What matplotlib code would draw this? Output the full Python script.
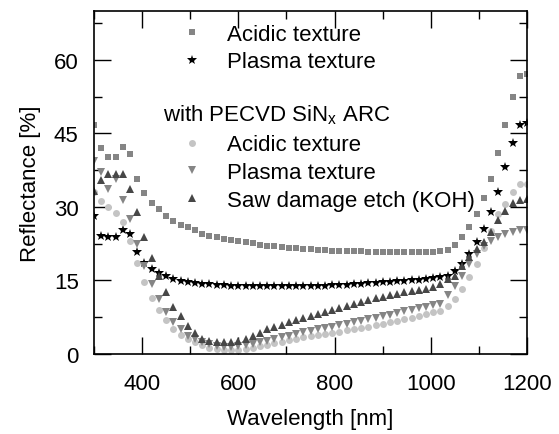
import matplotlib
matplotlib.use("Agg")
from matplotlib import pyplot as plt
from matplotlib.lines import Line2D
from matplotlib.ticker import MultipleLocator


# wavelength grid [nm]
wavelength = [300, 315, 330, 345, 360, 375, 390, 405, 420, 435, 450, 465, 480, 495, 510,
              525, 540, 555, 570, 585, 600, 615, 630, 645, 660, 675, 690, 705, 720, 735,
              750, 765, 780, 795, 810, 825, 840, 855, 870, 885, 900, 915, 930, 945, 960,
              975, 990, 1005, 1020, 1035, 1050, 1065, 1080, 1095, 1110, 1125, 1140, 1155,
              1170, 1185, 1200]

# reflectance [%], bare
acidic = [46.6, 42.0, 40.1, 40.1, 42.2, 40.8, 35.7, 32.9, 30.8, 29.5, 28.1, 27.1, 26.3, 25.8, 25.2,
          24.5, 24.1, 23.8, 23.5, 23.3, 23.0, 22.8, 22.6, 22.3, 22.1, 22.0, 21.8, 21.7, 21.6, 21.4,
          21.4, 21.3, 21.2, 21.1, 21.0, 21.0, 20.9, 20.9, 20.8, 20.8, 20.7, 20.7, 20.7, 20.7, 20.7,
          20.7, 20.7, 20.8, 20.9, 21.3, 22.3, 23.9, 25.8, 28.6, 31.8, 35.6, 41.0, 46.6, 52.5, 56.7,
          57.1]
plasma = [28.1, 24.0, 23.8, 23.8, 25.2, 24.5, 20.7, 18.6, 17.3, 16.5, 15.9, 15.3, 14.8, 14.6, 14.4,
          14.3, 14.2, 14.1, 14.0, 13.9, 13.9, 13.8, 13.8, 13.8, 13.8, 13.8, 13.8, 13.8, 13.8, 13.8,
          13.8, 13.9, 13.9, 14.0, 14.0, 14.1, 14.2, 14.3, 14.4, 14.5, 14.6, 14.7, 14.8, 14.9, 15.0,
          15.1, 15.2, 15.4, 15.6, 16.0, 17.0, 18.4, 20.3, 22.8, 25.5, 28.9, 33.0, 38.1, 43.0, 46.7,
          47.1]

# reflectance [%], with PECVD SiNx ARC
acidic_arc = [33.0, 31.1, 29.9, 28.7, 26.9, 23.1, 18.6, 14.6, 11.4, 9.0, 6.9, 5.1, 3.9, 3.1, 2.4,
              1.8, 1.3, 1.0, 0.8, 0.8, 0.9, 1.1, 1.3, 1.6, 1.9, 2.2, 2.5, 2.8, 3.1, 3.4,
              3.6, 3.8, 4.0, 4.3, 4.5, 4.8, 5.0, 5.3, 5.6, 5.9, 6.2, 6.5, 6.8, 7.1, 7.4,
              7.8, 8.2, 8.5, 8.8, 9.7, 11.2, 13.3, 15.6, 18.3, 21.6, 25.0, 28.5, 30.6, 33.0, 34.6,
              34.7]
plasma_arc = [39.4, 37.1, 33.7, 35.7, 31.4, 27.6, 22.4, 18.0, 14.3, 11.2, 8.5, 6.5, 5.1, 3.7, 3.1,
              2.5, 2.0, 1.7, 1.5, 1.5, 1.6, 1.8, 2.1, 2.4, 2.7, 3.0, 3.4, 3.7, 4.0, 4.4,
              4.7, 5.0, 5.3, 5.6, 5.9, 6.2, 6.5, 6.8, 7.1, 7.4, 7.7, 8.0, 8.3, 8.7, 9.0,
              9.3, 9.6, 9.9, 10.2, 12.0, 13.9, 16.0, 18.4, 20.4, 22.1, 23.0, 23.8, 24.4, 24.9, 25.2,
              25.2]
saw_arc = [33.3, 35.4, 36.7, 36.7, 36.7, 33.7, 28.9, 23.8, 19.6, 16.0, 12.6, 9.5, 7.8, 5.8, 4.3,
           3.1, 2.6, 2.4, 2.4, 2.4, 2.6, 3.1, 3.7, 4.3, 5.0, 5.4, 5.9, 6.5, 7.0, 7.4,
           7.8, 8.2, 8.6, 9.0, 9.4, 9.8, 10.2, 10.6, 11.0, 11.4, 11.7, 12.0, 12.3, 12.6, 12.8,
           13.1, 13.3, 13.6, 14.3, 15.3, 16.0, 18.0, 19.7, 21.4, 22.8, 24.8, 27.4, 29.1, 30.8, 31.4,
           31.6]

labels = ["Acidic texture", "Plasma texture", "Acidic texture", "Plasma texture",
          "Saw damage etch (KOH)"]
header = "with PECVD SiN$_\\mathregular{x}$ ARC"


plt.rcParams['font.family'] = ['Liberation Sans', 'DejaVu Sans']
plt.rcParams['font.size'] = 16

fig = plt.figure(figsize=(5.59, 4.35), dpi=100)
ax = fig.add_axes([0.168, 0.184, 0.775, 0.789])

#series styles: marker, size, colour
styles = [("s", 4.2, "#858585"),
          ("*", 7.0, "black"),
          ("o", 5.0, "#c4c4c4"),
          ("v", 6.0, "#858585"),
          ("^", 6.0, "#474747")]
series = [acidic, plasma, acidic_arc, plasma_arc, saw_arc]

handles = []
for ys, (m, ms, c) in zip(series, styles):
    ax.plot(wavelength, ys, linestyle="none", marker=m, markersize=ms,
            color=c, markeredgewidth=0)
    handles.append(Line2D([], [], linestyle="none", marker=m, markersize=ms,
                          color=c, markeredgewidth=0))

#blank rows in legend for the header line
blank = Line2D([], [], linestyle="none")
leg_handles = handles[:2] + [blank, blank] + handles[2:]
leg_labels = labels[:2] + [" ", " "] + labels[2:]
ax.legend(leg_handles, leg_labels, loc="upper left", bbox_to_anchor=(0.174, 0.962),
          frameon=False, borderpad=0, borderaxespad=0, handlelength=2.0,
          handletextpad=0.58, labelspacing=0.30, numpoints=1)
ax.text(0.160, 0.700, header, transform=ax.transAxes, ha="left", va="center")

ax.set_xlim(300, 1200)
ax.set_ylim(0, 70)
ax.xaxis.set_major_locator(MultipleLocator(200))
ax.xaxis.set_minor_locator(MultipleLocator(100))
ax.yaxis.set_major_locator(MultipleLocator(15))
ax.yaxis.set_minor_locator(MultipleLocator(7.5))
ax.tick_params(which="both", direction="in", top=True, right=True, width=1.0)
ax.tick_params(which="major", length=12)
ax.tick_params(which="minor", length=6)
ax.tick_params(axis="x", which="major", pad=14)
ax.tick_params(axis="y", which="major", pad=11)
for sp in ax.spines.values():
    sp.set_linewidth(1.2)

ax.set_xlabel("Wavelength [nm]", labelpad=10)
ax.set_ylabel("Reflectance [%]", labelpad=9)

fig.savefig("out.png", dpi=100)
